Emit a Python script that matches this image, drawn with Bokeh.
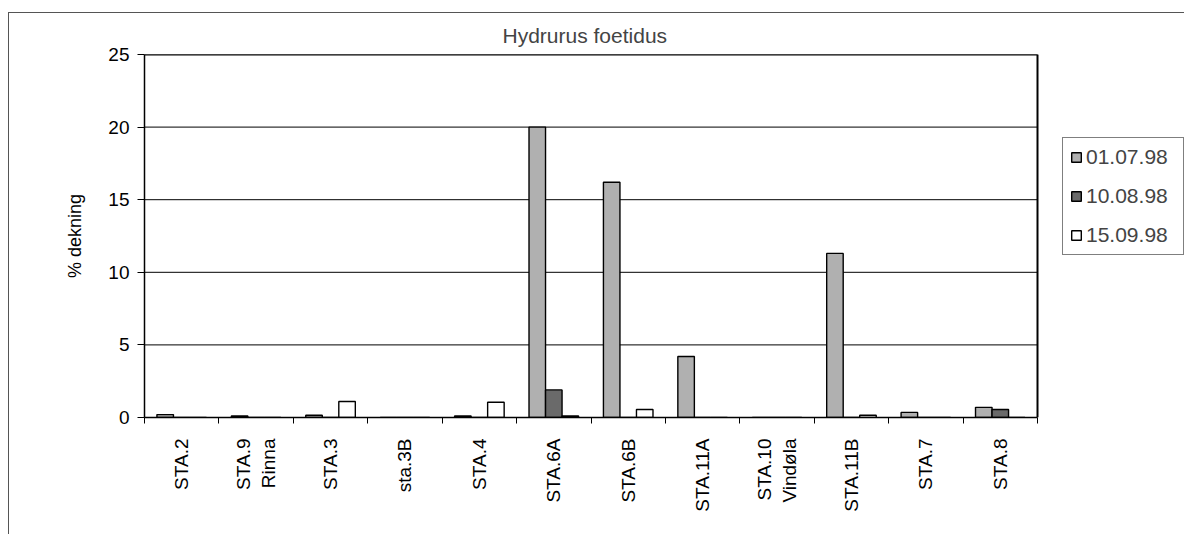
import numpy as np
from bokeh.plotting import figure
from bokeh.models import (ColumnDataSource, Range1d, FixedTicker, Legend, LegendItem)
from bokeh.transform import dodge
from bokeh.embed import file_html
from bokeh.resources import INLINE

stations = ["STA.2", "STA.9\nRinna", "STA.3", "sta.3B", "STA.4", "STA.6A", "STA.6B",
            "STA.11A", "STA.10\nVindøla", "STA.11B", "STA.7", "STA.8"]
series_names = ["01.07.98", "10.08.98", "15.09.98"]
v_0107 = [0.2, 0.1, 0.15, 0, 0.1, 20.0, 16.2, 4.2, 0, 11.3, 0.35, 0.7]
v_1008 = [0, 0, 0, 0, 0, 1.9, 0, 0, 0, 0, 0, 0.55]
v_1509 = [0, 0, 1.1, 0, 1.05, 0.1, 0.55, 0, 0, 0.15, 0, 0]
y_ticks = [0, 5, 10, 15, 20, 25]

FONT = "Liberation Sans"
colors = ["#b0b0b0", "#6a6a6a", "#ffffff"]

n = len(stations)
xc = np.arange(n) + 0.5
src = ColumnDataSource(dict(xc=xc, a=v_0107, b=v_1008, c=v_1509))

# layout geometry (pixels): plot area 893px wide for the categories,
# frame extended to the right edge so the legend can sit there unclipped
W, H = 1176, 522
LEFT, TOP, BOTTOM = 135, 39, 118
cat_px = 893.0
frame_w = W - LEFT
x_end = n * frame_w / cat_px

p = figure(width=W, height=H, output_backend="svg", toolbar_location=None,
           x_range=Range1d(0, x_end), y_range=Range1d(0, 25),
           min_border_left=LEFT, min_border_right=0, min_border_top=TOP,
           min_border_bottom=BOTTOM)
p.margin = (12, 0, 0, 8)
p.styles = {"border-left": "1px solid #555555", "border-top": "1px solid #555555"}

p.title.text = "Hydrurus foetidus"
p.title.align = "left"
p.title.offset = 358
p.title.text_font = FONT
p.title.text_font_size = "21px"
p.title.text_font_style = "normal"
p.title.standoff = 16

# grid lines and plot area border limited to the category area
grid_y = [t for t in y_ticks if t > 0]
p.segment(x0=[0] * len(grid_y), x1=[n] * len(grid_y), y0=grid_y, y1=grid_y,
          line_color="black", line_width=1)
p.line(x=[0, n, n], y=[y_ticks[-1], y_ticks[-1], 0], line_color="black", line_width=2)

bw = 0.222
renderers = []
for i, (col, color) in enumerate(zip(["a", "b", "c"], colors)):
    r = p.vbar(x=dodge("xc", (i - 1) * bw, range=p.x_range), top=col, width=bw,
               source=src, fill_color=color, line_color="black", line_width=1.4)
    renderers.append(r)

# axes
xa = p.xaxis[0]
xa.bounds = (0, n)
xa.ticker = FixedTicker(ticks=list(xc), minor_ticks=list(range(n + 1)))
xa.major_label_overrides = {float(x): s for x, s in zip(xc, stations)}
xa.major_label_orientation = np.pi / 2
xa.major_tick_in = 0
xa.major_tick_out = 0
xa.minor_tick_in = 0
xa.minor_tick_out = 6
xa.minor_tick_line_color = "black"
xa.major_label_standoff = 15
xa.major_label_text_font = FONT
xa.major_label_text_font_size = "19px"
xa.major_label_text_color = "black"
xa.axis_line_color = "black"
xa.axis_line_width = 1.5

ya = p.yaxis[0]
ya.ticker = FixedTicker(ticks=y_ticks)
ya.minor_tick_line_color = None
ya.major_tick_in = 0
ya.major_tick_out = 7
ya.major_tick_line_color = "black"
ya.major_label_standoff = 8
ya.major_label_text_font = FONT
ya.major_label_text_font_size = "19px"
ya.major_label_text_color = "black"
ya.axis_line_color = "black"
ya.axis_line_width = 1.5
ya.axis_label = "% dekning"
ya.axis_label_text_font = FONT
ya.axis_label_text_font_size = "18px"
ya.axis_label_text_font_style = "normal"
ya.axis_label_text_color = "black"
ya.axis_label_standoff = 20

p.xgrid.grid_line_color = None
p.ygrid.grid_line_color = None
p.outline_line_color = None

legend = Legend(items=[LegendItem(label=s, renderers=[r]) for s, r in zip(series_names, renderers)],
                location=(918, 162), orientation="vertical")
legend.label_text_font = FONT
legend.label_text_font_size = "21px"
legend.glyph_width = 12
legend.glyph_height = 12
legend.label_height = 21
legend.spacing = 15
legend.label_standoff = 4
legend.label_width = 90
legend.padding = 7
legend.margin = 0
legend.border_line_color = "black"
legend.border_line_width = 1
legend.background_fill_alpha = 1
p.add_layout(legend, "center")

open("out.html", "w").write(file_html(p, INLINE))
